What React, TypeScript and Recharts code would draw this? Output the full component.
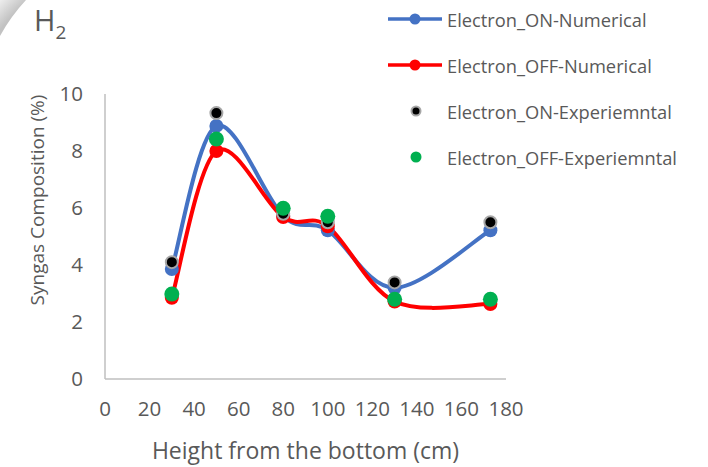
import React from "react";
import { ComposedChart, Line, Scatter, XAxis, YAxis } from "recharts";

// heights (cm) where the gas was sampled
const heights = [30, 50, 80, 100, 130, 173];

// H2 share of the syngas (%)
const onNumerical = [3.86, 8.88, 5.72, 5.22, 3.2, 5.22];
const offNumerical = [2.85, 8.0, 5.68, 5.36, 2.72, 2.63];
const onExperimental = [4.1, 9.33, 5.8, 5.5, 3.39, 5.5];
const offExperimental = [2.98, 8.42, 5.99, 5.71, 2.8, 2.8];

const xTicks = [0, 20, 40, 60, 80, 100, 120, 140, 160, 180];
const yTicks = [0, 2, 4, 6, 8, 10];

const seriesNames = [
  "Electron_ON-Numerical",
  "Electron_OFF-Numerical",
  "Electron_ON-Experiemntal",
  "Electron_OFF-Experiemntal",
];

const toPoints = (ys: number[]) => heights.map((x, i) => ({ x, y: ys[i] }));

const FONT = "'Open Sans', sans-serif";
const TEXT = "#595959";
const AXIS = "#bfbfbf";
const BLUE = "#4472C4";
const RED = "#FF0000";
const GREEN = "#00B050";

// Office-style smoothed line: cubic segments with (p[i+1] - p[i-1]) / 6 handles
const smoothCurve = (context: any) => {
  let pts: [number, number][] = [];
  return {
    areaStart() {},
    areaEnd() {},
    lineStart() {
      pts = [];
    },
    lineEnd() {
      if (!pts.length) return;
      context.moveTo(pts[0][0], pts[0][1]);
      for (let i = 0; i < pts.length - 1; i++) {
        const p0 = pts[i - 1] || pts[i];
        const p1 = pts[i];
        const p2 = pts[i + 1];
        const p3 = pts[i + 2] || p2;
        context.bezierCurveTo(
          p1[0] + (p2[0] - p0[0]) / 6,
          p1[1] + (p2[1] - p0[1]) / 6,
          p2[0] - (p3[0] - p1[0]) / 6,
          p2[1] - (p3[1] - p1[1]) / 6,
          p2[0],
          p2[1]
        );
      }
    },
    point(x: number, y: number) {
      pts.push([+x, +y]);
    },
  };
};

const BlackDot = (props: any) => (
  <circle cx={props.cx} cy={props.cy} r={6} fill="#000" stroke="#a6a6a6" strokeWidth={2} />
);
const GreenDot = (props: any) => <circle cx={props.cx} cy={props.cy} r={7.5} fill={GREEN} />;

const LegendRow = ({ kind, color, label }: { kind: "line" | "dot" | "ring"; color: string; label: string }) => (
  <div style={{ display: "flex", alignItems: "center", height: 46 }}>
    <svg width={58} height={20} style={{ flex: "none" }}>
      {kind === "line" && <line x1={2} y1={10} x2={56} y2={10} stroke={color} strokeWidth={3.5} />}
      {kind === "line" && <circle cx={29} cy={10} r={5.5} fill={color} />}
      {kind === "dot" && <circle cx={30} cy={10} r={5.5} fill={color} />}
      {kind === "ring" && <circle cx={30} cy={10} r={4.5} fill="#000" stroke="#a6a6a6" strokeWidth={2} />}
    </svg>
    <span style={{ marginLeft: 3, fontFamily: FONT, fontSize: 18.3, color: TEXT, whiteSpace: "nowrap" }}>{label}</span>
  </div>
);

export default function App() {
  return (
    <div style={{ position: "absolute", left: 0, top: 0, width: 708, height: 467, background: "#fff", overflow: "hidden" }}>
      {/* soft grey corner */}
      <svg width={60} height={60} style={{ position: "absolute", left: 0, top: 0 }}>
        <defs>
          <radialGradient id="corner" cx={140} cy={140} r={200} gradientUnits="userSpaceOnUse">
            <stop offset="0.89" stopColor="#c2c2c2" />
            <stop offset="0.99" stopColor="#eeeeee" />
          </radialGradient>
        </defs>
        <path d="M0,0 L26,0 A178,178 0 0 0 0,36 Z" fill="url(#corner)" />
      </svg>

      <div style={{ position: "absolute", left: 34, top: 0, fontFamily: FONT, fontSize: 29, color: TEXT, lineHeight: "40px" }}>
        H<sub style={{ fontSize: 19, verticalAlign: "-0.4em" }}>2</sub>
      </div>

      <div style={{ position: "absolute", left: 386, top: -4 }}>
        <LegendRow kind="line" color={BLUE} label={seriesNames[0]} />
        <LegendRow kind="line" color={RED} label={seriesNames[1]} />
        <LegendRow kind="ring" color="#000" label={seriesNames[2]} />
        <LegendRow kind="dot" color={GREEN} label={seriesNames[3]} />
      </div>

      <div
        style={{
          position: "absolute",
          left: 37,
          top: 200,
          transform: "translate(-50%, -50%) rotate(-90deg)",
          fontFamily: FONT,
          fontSize: 19,
          color: TEXT,
          whiteSpace: "nowrap",
        }}
      >
        Syngas Composition (%)
      </div>

      <ComposedChart
        width={708}
        height={467}
        margin={{ top: 94, right: 202, bottom: 58, left: 65 }}
        style={{ position: "absolute", left: 0, top: 0 }}
      >
        <XAxis
          type="number"
          dataKey="x"
          domain={[0, 180]}
          ticks={xTicks}
          interval={0}
          allowDataOverflow
          height={30}
          tickLine={false}
          tickSize={0}
          tickMargin={22}
          axisLine={{ stroke: AXIS, strokeWidth: 1.5 }}
          tick={{ fill: TEXT, fontFamily: FONT, fontSize: 20.5 }}
          label={{
            value: "Height from the bottom (cm)",
            position: "insideBottom",
            offset: -50,
            fill: TEXT,
            fontFamily: FONT,
            fontSize: 23,
          }}
        />
        <YAxis
          type="number"
          dataKey="y"
          domain={[0, 10]}
          ticks={yTicks}
          interval={0}
          width={40}
          tickLine={false}
          tickSize={0}
          tickMargin={22}
          axisLine={{ stroke: AXIS, strokeWidth: 1.5 }}
          tick={{ fill: TEXT, fontFamily: FONT, fontSize: 20.5 }}
        />
        <Line
          data={toPoints(onNumerical)}
          dataKey="y"
          name={seriesNames[0]}
          type={smoothCurve as any}
          stroke={BLUE}
          strokeWidth={4}
          dot={{ r: 7, fill: BLUE, stroke: BLUE, strokeWidth: 0 }}
          activeDot={false}
          isAnimationActive={false}
        />
        <Line
          data={toPoints(offNumerical)}
          dataKey="y"
          name={seriesNames[1]}
          type={smoothCurve as any}
          stroke={RED}
          strokeWidth={4}
          dot={{ r: 7, fill: RED, stroke: RED, strokeWidth: 0 }}
          activeDot={false}
          isAnimationActive={false}
        />
        <Scatter
          data={toPoints(onExperimental)}
          dataKey="y"
          name={seriesNames[2]}
          shape={BlackDot}
          isAnimationActive={false}
        />
        <Scatter
          data={toPoints(offExperimental)}
          dataKey="y"
          name={seriesNames[3]}
          shape={GreenDot}
          isAnimationActive={false}
        />
      </ComposedChart>
    </div>
  );
}
